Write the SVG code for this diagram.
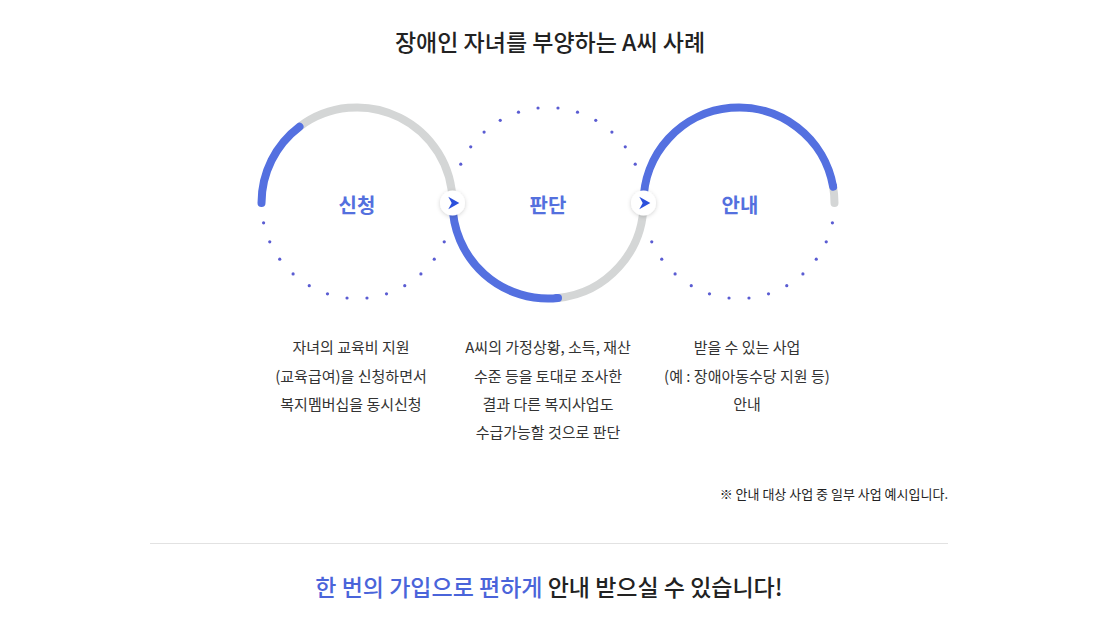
<svg xmlns="http://www.w3.org/2000/svg" width="1110" height="625" viewBox="0 0 1110 625">
<defs>
<style>
.t{font-family:"Noto Sans CJK KR","Noto Sans",sans-serif}
.title{font-size:23px;font-weight:500;fill:#222}
.lbl{font-size:20px;font-weight:700;fill:#5470de;text-anchor:middle}
.desc{font-size:15px;fill:#333;text-anchor:middle}
.note{font-size:13px;fill:#222;text-anchor:end}
.bottom{font-size:23px;font-weight:500;fill:#222}
.gray{fill:none;stroke:#d4d6d6;stroke-width:8}
.blue{fill:none;stroke:#5470e0;stroke-width:8;stroke-linecap:round}
.dot{fill:#5a5cd2}
.ic{fill:#fff;filter:url(#sh)}
.ar{fill:#2c50dc}
</style>
<filter id="sh" x="-50%" y="-50%" width="200%" height="200%">
<feDropShadow dx="0" dy="1" stdDeviation="2" flood-color="#000" flood-opacity="0.18"/>
</filter>
</defs>
<rect width="1110" height="625" fill="#fff"/>
<text class="t title" x="550" y="51" text-anchor="middle">장애인 자녀를 부양하는 A씨 사례</text>

<g id="dots" class="dot">
<circle cx="263.59" cy="222.86" r="1.6"/><circle cx="269.76" cy="241.84" r="1.6"/><circle cx="279.74" cy="259.13" r="1.6"/><circle cx="293.10" cy="273.97" r="1.6"/><circle cx="309.25" cy="285.70" r="1.6"/><circle cx="327.49" cy="293.83" r="1.6"/><circle cx="347.02" cy="297.98" r="1.6"/>
<circle cx="444.24" cy="241.84" r="1.6"/><circle cx="434.26" cy="259.13" r="1.6"/><circle cx="420.90" cy="273.97" r="1.6"/><circle cx="404.75" cy="285.70" r="1.6"/><circle cx="386.51" cy="293.83" r="1.6"/><circle cx="366.98" cy="297.98" r="1.6"/>
<circle cx="460.76" cy="164.16" r="1.6"/><circle cx="470.74" cy="146.87" r="1.6"/><circle cx="484.10" cy="132.03" r="1.6"/><circle cx="500.25" cy="120.30" r="1.6"/><circle cx="518.49" cy="112.17" r="1.6"/><circle cx="538.02" cy="108.02" r="1.6"/>
<circle cx="635.24" cy="164.16" r="1.6"/><circle cx="625.26" cy="146.87" r="1.6"/><circle cx="611.90" cy="132.03" r="1.6"/><circle cx="595.75" cy="120.30" r="1.6"/><circle cx="577.51" cy="112.17" r="1.6"/><circle cx="557.98" cy="108.02" r="1.6"/>
<circle cx="651.76" cy="241.84" r="1.6"/><circle cx="661.74" cy="259.13" r="1.6"/><circle cx="675.10" cy="273.97" r="1.6"/><circle cx="691.25" cy="285.70" r="1.6"/><circle cx="709.49" cy="293.83" r="1.6"/><circle cx="729.02" cy="297.98" r="1.6"/>
<circle cx="832.41" cy="222.86" r="1.6"/><circle cx="826.24" cy="241.84" r="1.6"/><circle cx="816.26" cy="259.13" r="1.6"/><circle cx="802.90" cy="273.97" r="1.6"/><circle cx="786.75" cy="285.70" r="1.6"/><circle cx="768.51" cy="293.83" r="1.6"/><circle cx="748.98" cy="297.98" r="1.6"/>
</g>

<g id="node-apply">
<path class="gray" d="M299.5,126.7 A95.5,95.5 0 0 1 452.5,203"/>
<path class="blue" d="M261.5,203 A95.5,95.5 0 0 1 299.5,126.7"/>
<text class="t lbl" x="357" y="213">신청</text>
</g>
<g id="node-judge">
<path class="gray" d="M558,298 A95.5,95.5 0 0 0 643.5,203"/>
<path class="blue" style="stroke-linecap:butt" d="M452.5,203 A95.5,95.5 0 0 0 558,298"/>
<path class="blue" d="M557,298 L558,298"/>
<text class="t lbl" x="548" y="213">판단</text>
</g>
<g id="node-guide">
<path class="gray" style="stroke-linecap:round" d="M833.05,186.4 A95.5,95.5 0 0 1 834.5,203"/>
<path class="blue" style="stroke-linecap:butt" d="M643.5,203 A95.5,95.5 0 0 1 833.05,186.4"/>
<path class="blue" d="M833.05,186.4 L833.1,186.6"/>
<text class="t lbl" x="740" y="213">안내</text>
</g>

<g id="connectors">
<g transform="translate(452.5,203)"><circle class="ic" r="12.5"/><polygon class="ar" points="-4.2,-6.3 6.8,0 -4.2,6.3 -0.8,0"/></g>
<g transform="translate(643.5,203)"><circle class="ic" r="12.5"/><polygon class="ar" points="-4.2,-6.3 6.8,0 -4.2,6.3 -0.8,0"/></g>
</g>

<g id="desc-apply" class="t desc">
<text x="351" y="353">자녀의 교육비 지원</text>
<text x="351" y="382">(교육급여)을 신청하면서</text>
<text x="351" y="410">복지멤버십을 동시신청</text>
</g>
<g id="desc-judge" class="t desc">
<text x="548" y="353">A씨의 가정상황, 소득, 재산</text>
<text x="548" y="382">수준 등을 토대로 조사한</text>
<text x="548" y="410">결과 다른 복지사업도</text>
<text x="548" y="438">수급가능할 것으로 판단</text>
</g>
<g id="desc-guide" class="t desc">
<text x="747" y="353">받을 수 있는 사업</text>
<text x="747" y="382">(예 : 장애아동수당 지원 등)</text>
<text x="747" y="410">안내</text>
</g>

<text class="t note" x="948" y="499">※ 안내 대상 사업 중 일부 사업 예시입니다.</text>
<line x1="150" y1="543.5" x2="948" y2="543.5" stroke="#e2e2e2" stroke-width="1"/>
<text class="t bottom" x="549" y="596" text-anchor="middle"><tspan fill="#4a64da">한 번의 가입으로 편하게</tspan> 안내 받으실 수 있습니다!</text>
</svg>
